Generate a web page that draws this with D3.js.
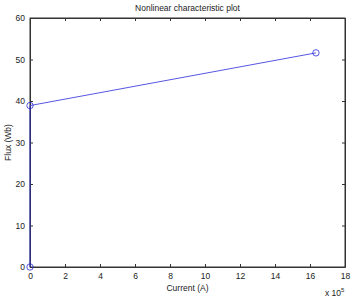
<!DOCTYPE html>
<html>
<head>
<meta charset="utf-8">
<script src="https://cdn.jsdelivr.net/npm/d3@7"></script>
<style>
  body { margin: 0; background: #fff; }
  text { font-family: "Liberation Sans", Arial, sans-serif; fill: #222; }
</style>
</head>
<body>
<div id="chart"></div>
<script>
const width = 351
const height = 298
const margin = { left: 30, right: 6, top: 18, bottom: 31 }

// data (current in units of 1e5 A, flux in Wb)
const current = [0, 0, 16.34]
const flux = [0, 38.9, 51.6]
const xTicks = [0, 2, 4, 6, 8, 10, 12, 14, 16, 18]
const yTicks = [0, 10, 20, 30, 40, 50, 60]

const data = current.map((c, i) => ({ x: c, y: flux[i] }))

const iw = width - margin.left - margin.right
const ih = height - margin.top - margin.bottom

const svg = d3.select("#chart").append("svg").attr("width", width).attr("height", height)
const g = svg.append("g").attr("transform", `translate(${margin.left}, ${margin.top})`)

const x = d3.scaleLinear().domain([0, 18]).range([0, iw])
const y = d3.scaleLinear().domain([0, 60]).range([ih, 0])

const axisColor = "#333"
const tickLen = 3

// box
g.append("rect").attr("width", iw).attr("height", ih)
    .attr("fill", "none").attr("stroke", axisColor).attr("stroke-width", 1)

// bottom axis with labels, ticks inward
const xAxis = g.append("g").attr("transform", `translate(0, ${ih})`)
    .call(d3.axisBottom(x).tickValues(xTicks).tickSizeInner(-tickLen).tickSizeOuter(0).tickPadding(6))
const yAxis = g.append("g")
    .call(d3.axisLeft(y).tickValues(yTicks).tickSizeInner(-tickLen).tickSizeOuter(0).tickPadding(5))
// top and right ticks (no labels)
g.append("g")
    .call(d3.axisTop(x).tickValues(xTicks).tickSizeInner(-tickLen).tickSizeOuter(0).tickFormat(""))
g.append("g").attr("transform", `translate(${iw}, 0)`)
    .call(d3.axisRight(y).tickValues(yTicks).tickSizeInner(-tickLen).tickSizeOuter(0).tickFormat(""))

g.selectAll(".domain").attr("stroke", axisColor)
g.selectAll(".tick line").attr("stroke", axisColor)
g.selectAll(".tick text").attr("font-size", 8.5).attr("fill", "#222")
    .attr("font-family", "Liberation Sans, Arial, sans-serif")

// line and markers
const lineColor = "#2b2bdb"
g.append("path").datum(data)
    .attr("d", d3.line().x(d => x(d.x)).y(d => y(d.y)))
    .attr("fill", "none").attr("stroke", lineColor).attr("stroke-width", 0.8)

g.selectAll("circle").data(data).join("circle")
    .attr("cx", d => x(d.x)).attr("cy", d => y(d.y)).attr("r", 3.2)
    .attr("fill", "none").attr("stroke", lineColor).attr("stroke-width", 0.8)

// labels
svg.append("text").text("Nonlinear characteristic plot")
    .attr("x", margin.left + iw / 2).attr("y", 11)
    .attr("text-anchor", "middle").attr("font-size", 8.5)

svg.append("text").text("Current (A)")
    .attr("x", margin.left + iw / 2).attr("y", 291)
    .attr("text-anchor", "middle").attr("font-size", 8.5)

svg.append("text").text("Flux (Wb)")
    .attr("transform", `translate(11, ${margin.top + ih / 2}) rotate(-90)`)
    .attr("text-anchor", "middle").attr("font-size", 8.5)

const exp = svg.append("text").attr("x", 325).attr("y", 296).attr("font-size", 8.5)
exp.append("tspan").text("x 10")
exp.append("tspan").text("5").attr("font-size", 6).attr("dy", -4)
</script>
</body>
</html>
